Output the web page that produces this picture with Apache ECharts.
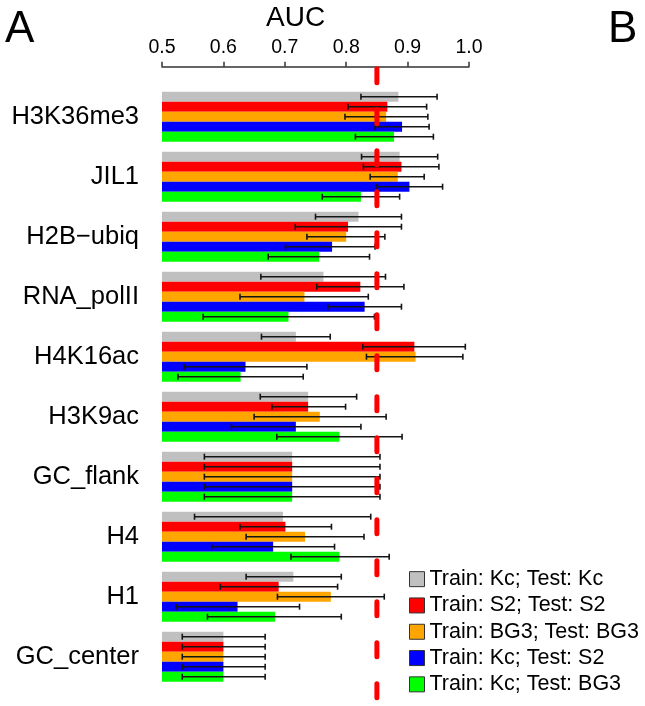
<!DOCTYPE html>
<html>
<head>
<meta charset="utf-8">
<script src="https://cdn.jsdelivr.net/npm/echarts@6/dist/echarts.min.js"></script>
<style>
  html, body { margin: 0; padding: 0; background: #fff; }
  #main { width: 645px; height: 706px; }
</style>
</head>
<body>
<div id="main"></div>
<script>
// 数据
var categories = ['H3K36me3', 'JIL1', 'H2B\u2212ubiq', 'RNA_polII', 'H4K16ac', 'H3K9ac', 'GC_flank', 'H4', 'H1', 'GC_center'];
var xTicks = ['0.5', '0.6', '0.7', '0.8', '0.9', '1.0'];
var seriesNames = ['Train: Kc; Test: Kc', 'Train: S2; Test: S2', 'Train: BG3; Test: BG3', 'Train: Kc; Test: S2', 'Train: Kc; Test: BG3'];
var seriesColors = ['#c0c0c0', '#ff0000', '#ffa500', '#0000ff', '#00ff00'];
var threshold = 0.85;

// AUC 均值
var aucKcKc   = [0.885, 0.887, 0.820, 0.763, 0.718, 0.738, 0.712, 0.697, 0.714, 0.600];
var aucS2S2   = [0.867, 0.890, 0.803, 0.823, 0.911, 0.738, 0.712, 0.701, 0.690, 0.600];
var aucBG3BG3 = [0.865, 0.884, 0.800, 0.732, 0.913, 0.757, 0.712, 0.733, 0.775, 0.600];
var aucKcS2   = [0.891, 0.903, 0.777, 0.830, 0.636, 0.718, 0.712, 0.681, 0.623, 0.600];
var aucKcBG3  = [0.878, 0.824, 0.756, 0.706, 0.628, 0.789, 0.712, 0.789, 0.684, 0.600];

// 误差下限 / 上限
var loKcKc   = [0.824, 0.825, 0.750, 0.661, 0.662, 0.660, 0.569, 0.553, 0.637, 0.533];
var hiKcKc   = [0.948, 0.949, 0.890, 0.864, 0.774, 0.817, 0.855, 0.840, 0.792, 0.668];
var loS2S2   = [0.803, 0.828, 0.717, 0.752, 0.827, 0.679, 0.569, 0.627, 0.595, 0.533];
var hiS2S2   = [0.931, 0.951, 0.890, 0.894, 0.994, 0.799, 0.855, 0.776, 0.786, 0.668];
var loBG3BG3 = [0.798, 0.839, 0.736, 0.627, 0.833, 0.650, 0.569, 0.637, 0.688, 0.533];
var hiBG3BG3 = [0.933, 0.927, 0.863, 0.836, 0.990, 0.865, 0.855, 0.829, 0.862, 0.668];
var loKcS2   = [0.847, 0.850, 0.701, 0.770, 0.536, 0.613, 0.569, 0.581, 0.523, 0.533];
var hiKcS2   = [0.935, 0.957, 0.847, 0.890, 0.736, 0.824, 0.855, 0.781, 0.724, 0.668];
var loKcBG3  = [0.815, 0.761, 0.673, 0.567, 0.526, 0.687, 0.569, 0.710, 0.574, 0.533];
var hiKcBG3  = [0.942, 0.887, 0.838, 0.846, 0.730, 0.891, 0.855, 0.870, 0.792, 0.668];

var aucList = [aucKcKc, aucS2S2, aucBG3BG3, aucKcS2, aucKcBG3];
var loList = [loKcKc, loS2S2, loBG3BG3, loKcS2, loKcBG3];
var hiList = [hiKcKc, hiS2S2, hiBG3BG3, hiKcS2, hiKcBG3];

var FONT = "'Liberation Sans', Arial, sans-serif";
var BAR_W = 10;

var myChart = echarts.init(document.getElementById('main'));

var series = [];
// 柱子
for (var k = 0; k < 5; k++) {
    series.push({
        name: seriesNames[k],
        type: 'bar',
        barWidth: BAR_W,
        barGap: '0%',
        itemStyle: { color: seriesColors[k] },
        data: aucList[k],
        z: 2
    });
}
// 误差线
for (var k = 0; k < 5; k++) {
    (function (k) {
        series.push({
            name: 'err' + k,
            type: 'custom',
            z: 3,
            encode: { x: [0, 1], y: 2 },
            data: categories.map(function (c, j) { return [loList[k][j], hiList[k][j], j]; }),
            renderItem: function (params, api) {
                var j = api.value(2);
                var p1 = api.coord([api.value(0), j]);
                var p2 = api.coord([api.value(1), j]);
                var y = p1[1] + (k - 2) * BAR_W;
                var st = { stroke: '#151515', lineWidth: 1.6 };
                return {
                    type: 'group',
                    children: [
                        { type: 'line', shape: { x1: p1[0], y1: y, x2: p2[0], y2: y }, style: st },
                        { type: 'line', shape: { x1: p1[0], y1: y - 3, x2: p1[0], y2: y + 3 }, style: st },
                        { type: 'line', shape: { x1: p2[0], y1: y - 3, x2: p2[0], y2: y + 3 }, style: st }
                    ]
                };
            }
        });
    })(k);
}
// 红色虚线阈值
series.push({
    name: 'threshold',
    type: 'custom',
    z: 5,
    encode: { x: 0, y: 1 },
    data: [[threshold, 0]],
    renderItem: function (params, api) {
        var x = api.coord([api.value(0), 0])[0];
        var top = params.coordSys.y - 20;
        return {
            type: 'line',
            shape: { x1: x, y1: top + 2, x2: x, y2: 706 },
            style: { stroke: '#ff0000', lineWidth: 5, lineCap: 'round', lineDash: [14, 27] }
        };
    }
});

var option = {
    backgroundColor: '#fff',
    animation: false,
    textStyle: { fontFamily: FONT },
    graphic: [
        { type: 'text', left: 5, top: 8, style: { text: 'A', font: '44px ' + FONT, fill: '#000' } },
        { type: 'text', left: 608, top: 8, style: { text: 'B', font: '44px ' + FONT, fill: '#000' } },
        { type: 'text', left: 266, top: 4, style: { text: 'AUC', font: '28px ' + FONT, fill: '#000' } }
    ],
    legend: {
        orient: 'vertical',
        left: 404,
        top: 561,
        itemWidth: 15,
        itemHeight: 15,
        itemGap: 0,
        icon: 'rect',
        data: seriesNames.map(function (n, i) {
            return { name: n, itemStyle: { color: seriesColors[i], borderColor: '#333', borderWidth: 1 } };
        }),
        textStyle: { fontSize: 21.5, fontFamily: FONT, color: '#000', lineHeight: 26.3 }
    },
    grid: {
        left: 162,
        right: 176,
        top: 86.7,
        height: 600,
        containLabel: false
    },
    xAxis: {
        type: 'value',
        position: 'top',
        offset: 20,
        min: 0.5,
        max: 1.0,
        interval: 0.1,
        splitLine: { show: false },
        axisLine: { show: true, lineStyle: { color: '#333', width: 1.5 } },
        axisTick: { show: true, inside: false, length: 5, lineStyle: { color: '#333', width: 1.5 } },
        axisLabel: {
            fontSize: 19.5,
            color: '#000',
            margin: 9,
            formatter: function (v) { return xTicks[Math.round((v - 0.5) * 10)]; }
        }
    },
    yAxis: {
        type: 'category',
        inverse: true,
        data: categories,
        axisLine: { show: false },
        axisTick: { show: false },
        axisLabel: { fontSize: 25.5, color: '#000', margin: 23 }
    },
    series: series
};

myChart.setOption(option);
</script>
</body>
</html>
